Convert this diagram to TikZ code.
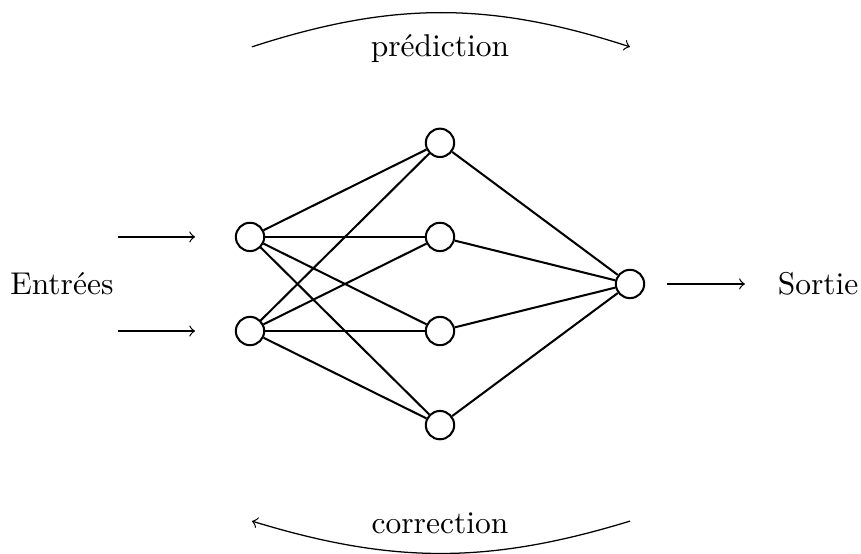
\documentclass[tikz,border=0pt]{standalone}
\usepackage{amsmath}
\usepackage{tikz}
\usetikzlibrary{positioning}

\begin{document}
\begin{tikzpicture}[x=2.12cm,y=1.05cm]

          \tikzstyle{neuronNode} = [circle, draw, line width=0.65pt, minimum size=9pt, inner sep=0pt];
          \tikzstyle{labelNode} = [black];
          \tikzstyle{neuronEdge} = [line width=0.65pt];
          \tikzstyle{flowEdge} = [->];

          \useasboundingbox (-1.316,-2.869) rectangle (3.216,3.018);

          \node[neuronNode] (in1) at (0,0.5) {};
          \node[neuronNode] (in2) at (0,-0.5) {};
          \node[neuronNode] (h1) at (1,1.5) {};
          \node[neuronNode] (h2) at (1,0.5) {};
          \node[neuronNode] (h3) at (1,-0.5) {};
          \node[neuronNode] (h4) at (1,-1.5) {};
          \node[neuronNode] (out) at (2,0) {};

          \node[labelNode] (entrees) at (-0.99,0) {Entrées};
          \node[labelNode] (sortie) at (2.99,0) {Sortie};
          \node[labelNode] (pred) at (1,2.5) {prédiction};
          \node[labelNode] (corr) at (1,-2.54) {correction};

          \coordinate (a1s) at (-0.695,0.5);
          \coordinate (a1e) at (-0.289,0.5);
          \coordinate (a2s) at (-0.695,-0.5);
          \coordinate (a2e) at (-0.289,-0.5);
          \coordinate (aos) at (2.195,0);
          \coordinate (aoe) at (2.605,0);
          \coordinate (predS) at (0.01,2.52);
          \coordinate (predE) at (2,2.52);
          \coordinate (corrS) at (2,-2.52);
          \coordinate (corrE) at (0.01,-2.52);

          \draw[neuronEdge] (in1) -- (h1);
          \draw[neuronEdge] (in1) -- (h2);
          \draw[neuronEdge] (in1) -- (h3);
          \draw[neuronEdge] (in1) -- (h4);
          \draw[neuronEdge] (in2) -- (h1);
          \draw[neuronEdge] (in2) -- (h2);
          \draw[neuronEdge] (in2) -- (h3);
          \draw[neuronEdge] (in2) -- (h4);
          \draw[neuronEdge] (h1) -- (out);
          \draw[neuronEdge] (h2) -- (out);
          \draw[neuronEdge] (h3) -- (out);
          \draw[neuronEdge] (h4) -- (out);

          \draw[flowEdge] (a1s) -- (a1e);
          \draw[flowEdge] (a2s) -- (a2e);
          \draw[flowEdge] (aos) -- (aoe);
          \draw[flowEdge] (predS) to[bend left=18] (predE);
          \draw[flowEdge] (corrS) to[bend left=17] (corrE);
        \end{tikzpicture}
\end{document}
